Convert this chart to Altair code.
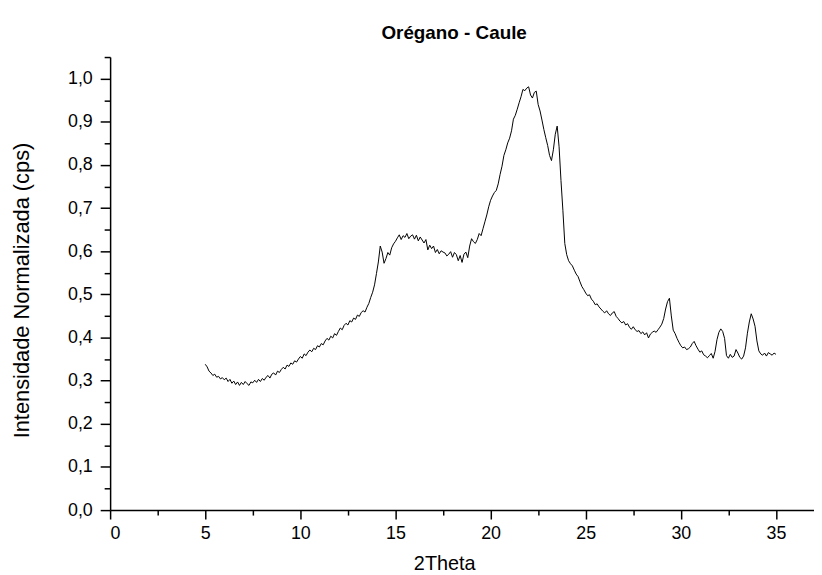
import altair as alt
import pandas as pd

TITLE = "Orégano - Caule"
X_TITLE = "2Theta"
Y_TITLE = "Intensidade Normalizada (cps)"

X_START = 5.0
X_STEP = 0.1

intensity = [
    # 5.0 - 5.9
    0.338, 0.332, 0.322, 0.318, 0.312, 0.315, 0.308, 0.310, 0.304, 0.307,
    # 6.0 - 6.9
    0.302, 0.306, 0.298, 0.303, 0.294, 0.299, 0.291, 0.297, 0.289, 0.296,
    # 7.0 - 7.9
    0.291, 0.298, 0.293, 0.289, 0.297, 0.295, 0.301, 0.296, 0.303, 0.298,
    # 8.0 - 8.9
    0.305, 0.301, 0.308, 0.312, 0.306, 0.315, 0.318, 0.313, 0.322, 0.319,
    # 9.0 - 9.9
    0.326, 0.331, 0.327, 0.336, 0.333, 0.341, 0.338, 0.346, 0.343, 0.350,
    # 10.0 - 10.9
    0.356, 0.352, 0.362, 0.358, 0.366, 0.371, 0.367, 0.375, 0.372, 0.381,
    # 11.0 - 11.9
    0.378, 0.386, 0.383, 0.392, 0.398, 0.394, 0.403, 0.399, 0.409, 0.405,
    # 12.0 - 12.9
    0.414, 0.422, 0.418, 0.428, 0.433, 0.429, 0.439, 0.436, 0.445, 0.442,
    # 13.0 - 13.9
    0.452, 0.449, 0.458, 0.462, 0.459, 0.470, 0.479, 0.493, 0.505, 0.522,
    # 14.0 - 14.9
    0.548, 0.575, 0.612, 0.598, 0.572, 0.583, 0.597, 0.591, 0.608, 0.617,
    # 15.0 - 15.9
    0.623, 0.631, 0.638, 0.627, 0.636, 0.632, 0.641, 0.629, 0.635, 0.638,
    # 16.0 - 16.9
    0.628, 0.637, 0.624, 0.633, 0.626, 0.619, 0.627, 0.603, 0.614, 0.606,
    # 17.0 - 17.9
    0.612, 0.597, 0.604, 0.594, 0.601, 0.598, 0.596, 0.589, 0.593, 0.599,
    # 18.0 - 18.9
    0.586, 0.597, 0.592, 0.578, 0.590, 0.574, 0.593, 0.598, 0.585, 0.612,
    # 19.0 - 19.9
    0.629, 0.622, 0.618, 0.627, 0.641, 0.636, 0.652, 0.668, 0.684, 0.703,
    # 20.0 - 20.9
    0.718, 0.728, 0.736, 0.741, 0.756, 0.778, 0.797, 0.822, 0.835, 0.851,
    # 21.0 - 21.9
    0.862, 0.879, 0.906, 0.915, 0.929, 0.944, 0.958, 0.975, 0.972, 0.978,
    # 22.0 - 22.9
    0.981, 0.962, 0.955, 0.968, 0.971, 0.940, 0.925, 0.904, 0.882, 0.863,
    # 23.0 - 23.9
    0.845, 0.822, 0.810, 0.835, 0.871, 0.890, 0.842, 0.764, 0.695, 0.618,
    # 24.0 - 24.9
    0.592, 0.578, 0.571, 0.566, 0.556, 0.547, 0.541, 0.529, 0.518, 0.511,
    # 25.0 - 25.9
    0.503, 0.497, 0.499, 0.489, 0.484, 0.476, 0.478, 0.471, 0.466, 0.461,
    # 26.0 - 26.9
    0.457, 0.462, 0.455, 0.451, 0.457, 0.460, 0.449, 0.444, 0.438, 0.434,
    # 27.0 - 27.9
    0.437, 0.429, 0.432, 0.424, 0.419, 0.425, 0.418, 0.414, 0.416, 0.409,
    # 28.0 - 28.9
    0.413, 0.406, 0.411, 0.399, 0.408, 0.412, 0.415, 0.412, 0.418, 0.424,
    # 29.0 - 29.9
    0.431, 0.444, 0.466, 0.483, 0.491, 0.450, 0.417, 0.409, 0.398, 0.389,
    # 30.0 - 30.9
    0.381, 0.376, 0.378, 0.372, 0.374, 0.378, 0.386, 0.391, 0.381, 0.373,
    # 31.0 - 31.9
    0.366, 0.369, 0.360, 0.357, 0.353, 0.358, 0.363, 0.352, 0.368, 0.395,
    # 32.0 - 32.9
    0.412, 0.420, 0.414, 0.398, 0.358, 0.352, 0.361, 0.354, 0.357, 0.372,
    # 33.0 - 33.9
    0.364, 0.354, 0.350, 0.357, 0.376, 0.410, 0.436, 0.455, 0.443, 0.426,
    # 34.0 - 34.9
    0.392, 0.369, 0.362, 0.359, 0.364, 0.357, 0.365, 0.362, 0.359, 0.364,
    # 35.0
    0.361,
]

two_theta = [round(X_START + X_STEP * i, 1) for i in range(len(intensity))]

x_major = [0, 5, 10, 15, 20, 25, 30, 35]
x_minor = [2.5, 7.5, 12.5, 17.5, 22.5, 27.5, 32.5]
y_major = [0.0, 0.1, 0.2, 0.3, 0.4, 0.5, 0.6, 0.7, 0.8, 0.9, 1.0]
y_minor = [0.05, 0.15, 0.25, 0.35, 0.45, 0.55, 0.65, 0.75, 0.85, 0.95, 1.05]

df = pd.DataFrame({"x": two_theta, "y": intensity})

FONT = "Liberation Sans"

xs = alt.Scale(domain=[0, 37], nice=False, zero=False)
ys = alt.Scale(domain=[0, 1.05], nice=False, zero=False)

major_x = alt.Axis(
    values=x_major, format="d", grid=False, tickSize=9, tickWidth=1.5,
    domainWidth=1.5, labelPadding=6, labelFontSize=18, labelFont=FONT,
    title=X_TITLE, titleFont=FONT, titleFontSize=20, titleFontWeight="normal",
    titleBaseline="alphabetic", titleAlign="center", titleX=337, titleY=60,
)
minor_x = alt.Axis(
    values=x_minor, labels=False, domain=False, grid=False, tickSize=5,
    tickWidth=1.5, title=None, orient="bottom",
)
major_y = alt.Axis(
    values=y_major, labelExpr="replace(format(datum.value, '.1f'), '.', ',')",
    grid=False, tickSize=10, tickWidth=1.5, domainWidth=1.5, labelPadding=8,
    labelFontSize=18, labelFont=FONT,
    title=Y_TITLE, titleFont=FONT, titleFontSize=22, titleFontWeight="normal",
    titleAngle=270, titleBaseline="middle", titleAlign="center",
    titleX=-89, titleY=235,
)
minor_y = alt.Axis(
    values=y_minor, labels=False, domain=False, grid=False, tickSize=6,
    tickWidth=1.5, title=None, orient="left",
)

base = alt.Chart(df)
line = base.mark_line(color="black", strokeWidth=1).encode(
    x=alt.X("x:Q", scale=xs, axis=major_x),
    y=alt.Y("y:Q", scale=ys, axis=major_y),
)
minor = base.mark_line(opacity=0).encode(
    x=alt.X("x:Q", scale=xs, axis=minor_x),
    y=alt.Y("y:Q", scale=ys, axis=minor_y),
)

chart = (
    alt.layer(line, minor)
    .resolve_axis(x="independent", y="independent")
    .properties(
        width=710,
        height=457,
        autosize=alt.AutoSizeParams(type="none"),
        padding={"left": 103, "top": 47, "right": 0, "bottom": 64},
        title=alt.TitleParams(
            TITLE, font=FONT, fontSize=19, fontWeight="bold", anchor="middle",
            baseline="alphabetic", offset=15, dy=17, dx=-8, color="black",
        ),
    )
    .configure_view(stroke=None)
    .configure_axis(
        domainColor="black", tickColor="black", labelColor="black",
        titleColor="black",
    )
)

chart.save("out.html", embed_options={"renderer": "svg", "actions": False})
